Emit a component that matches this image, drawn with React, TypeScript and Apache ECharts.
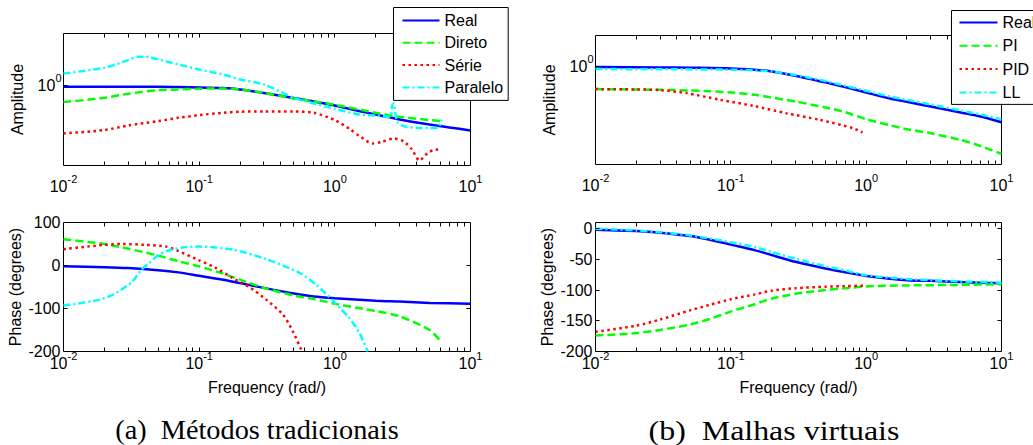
import React, { useEffect, useRef } from "react";
import * as echarts from "echarts";

// ---------- tick values ----------
const xMajorInner = [0.1, 1];
const xMinor = [
  0.02, 0.03, 0.04, 0.05, 0.06, 0.07, 0.08, 0.09,
  0.2, 0.3, 0.4, 0.5, 0.6, 0.7, 0.8, 0.9,
  2, 3, 4, 5, 6, 7, 8, 9,
];
const phaseTicksA = [0, -100];
const phaseTicksB = [0, -50, -100, -150];
const ampTicks = [1];

// ---------- (a) Métodos tradicionais : amplitude ----------
const ampRealA = [[0.01, 0.978], [0.02, 0.978], [0.03, 0.978], [0.05, 0.978], [0.07, 0.973], [0.1, 0.968], [0.15, 0.957], [0.2, 0.936], [0.3, 0.882], [0.5, 0.812], [0.7, 0.769], [1, 0.72], [1.5, 0.656], [2, 0.621], [3, 0.572], [5, 0.526], [7, 0.501], [10, 0.477]];
const ampDireto = [[0.01, 0.76], [0.02, 0.816], [0.03, 0.872], [0.05, 0.926], [0.07, 0.936], [0.1, 0.947], [0.15, 0.952], [0.2, 0.936], [0.3, 0.886], [0.5, 0.808], [0.7, 0.769], [1, 0.727], [1.5, 0.674], [2, 0.638], [3, 0.597], [5, 0.566], [6.1, 0.556]];
const ampSerie = [[0.01, 0.454], [0.02, 0.48], [0.03, 0.518], [0.05, 0.556], [0.07, 0.587], [0.1, 0.614], [0.15, 0.638], [0.2, 0.649], [0.3, 0.652], [0.5, 0.652], [0.7, 0.638], [1, 0.566], [1.3, 0.485], [1.5, 0.439], [1.9, 0.385], [2.2, 0.394], [2.7, 0.418], [3.2, 0.4], [3.7, 0.349], [4.2, 0.291], [4.8, 0.327], [5.3, 0.345], [6.1, 0.349]];
const ampParalelo = [[0.01, 1.218], [0.02, 1.337], [0.03, 1.517], [0.035, 1.603], [0.04, 1.603], [0.05, 1.534], [0.07, 1.413], [0.1, 1.301], [0.15, 1.198], [0.2, 1.104], [0.3, 1.017], [0.5, 0.816], [0.7, 0.744], [1, 0.681], [1.5, 0.621], [2, 0.61], [2.55, 0.597], [2.65, 0.72], [2.72, 0.744], [2.8, 0.621], [2.9, 0.547], [3.2, 0.512], [4, 0.499], [5, 0.496], [5.8, 0.501], [6.0, 0.535], [6.1, 0.572]];

// ---------- (a) phase ----------
const phRealA = [[0.01, -2], [0.02, -4], [0.03, -6], [0.05, -11], [0.07, -16], [0.1, -24], [0.15, -33], [0.2, -41], [0.3, -52], [0.5, -65], [0.7, -72], [1, -76], [2, -82], [3, -84], [5, -87], [10, -89]];
const phDireto = [[0.01, 61], [0.02, 50], [0.03, 39], [0.05, 23], [0.07, 10], [0.1, -2], [0.15, -19], [0.2, -33], [0.3, -52], [0.5, -70], [0.7, -78], [1, -89], [1.5, -99], [2, -106], [3, -118], [5, -150], [6.1, -178]];
const phSerie = [[0.01, 38], [0.015, 44], [0.02, 48], [0.027, 50], [0.04, 48], [0.057, 44], [0.07, 34], [0.1, 12], [0.13, -4], [0.176, -29], [0.234, -50], [0.311, -79], [0.414, -114], [0.49, -153], [0.573, -200]];
const phParalelo = [[0.01, -93], [0.0183, -80], [0.0244, -64], [0.0323, -37], [0.0372, -11], [0.0429, 6], [0.0494, 23], [0.057, 33], [0.0754, 42], [0.1, 44], [0.176, 37], [0.311, 15], [0.55, -17], [0.73, -45], [0.86, -66], [0.96, -80], [1.1, -100], [1.28, -122], [1.52, -157], [1.75, -200]];

// ---------- (b) Malhas virtuais : amplitude ----------
const ampRealB = [[0.01, 0.989], [0.03, 0.984], [0.05, 0.978], [0.1, 0.968], [0.15, 0.947], [0.2, 0.921], [0.3, 0.858], [0.5, 0.769], [0.7, 0.712], [1, 0.652], [1.5, 0.591], [2, 0.559], [3, 0.518], [5, 0.469], [7, 0.439], [10, 0.4]];
const ampPI = [[0.01, 0.689], [0.03, 0.681], [0.05, 0.674], [0.07, 0.666], [0.1, 0.652], [0.15, 0.628], [0.2, 0.6], [0.3, 0.562], [0.5, 0.51], [0.7, 0.472], [1, 0.421], [1.5, 0.381], [2, 0.357], [3, 0.334], [5, 0.299], [7, 0.271], [10, 0.238]];
const ampPID = [[0.01, 0.689], [0.02, 0.685], [0.03, 0.678], [0.047, 0.645], [0.083, 0.578], [0.146, 0.524], [0.257, 0.464], [0.453, 0.416], [0.8, 0.363], [0.94, 0.338]];
const ampLL = [[0.01, 0.957], [0.05, 0.952], [0.1, 0.947], [0.15, 0.936], [0.2, 0.921], [0.3, 0.867], [0.5, 0.786], [0.7, 0.727], [1, 0.67], [1.5, 0.61], [2, 0.578], [3, 0.535], [5, 0.485], [7, 0.454], [10, 0.421]];

// ---------- (b) phase ----------
const phRealB = [[0.01, -2], [0.02, -4], [0.03, -6.5], [0.05, -12], [0.07, -18], [0.1, -26], [0.15, -35], [0.2, -43], [0.3, -54], [0.5, -65], [0.7, -71], [1, -77], [2, -84], [3, -85], [5, -87], [10, -89]];
const phPI = [[0.01, -174], [0.02, -170], [0.03, -165], [0.05, -156], [0.07, -147], [0.1, -135], [0.15, -123], [0.2, -114], [0.3, -106], [0.5, -100], [0.7, -97], [1, -94], [2, -92.5], [5, -91.5], [10, -90.5]];
const phPID = [[0.01, -168], [0.02, -158], [0.03, -148], [0.05, -133], [0.07, -124], [0.1, -115], [0.15, -107], [0.2, -101], [0.3, -97], [0.5, -94.5], [0.7, -93.5], [0.95, -93]];
const phLL = [[0.01, 0], [0.02, -3], [0.03, -6], [0.05, -11], [0.1, -22], [0.15, -30], [0.2, -38], [0.3, -49], [0.5, -61], [0.7, -68], [1, -76], [2, -82], [3, -84], [5, -86], [10, -88]];

const legendA = ["Real", "Direto", "Série", "Paralelo"];
const legendB = ["Real", "PI", "PID", "LL"];

const captionA = "(a)  Métodos tradicionais";
const captionB = "(b)  Malhas virtuais";

const FONT = "Liberation Sans";
const FS = 16;
const BLUE = "#0000ff";
const GREEN = "#00ff00";
const RED = "#ff0000";
const CYAN = "#00ffff";
const LW = 2.5;
const DASH = [8, 4];
const DOT = [2.5, 3.5];
const DASHDOT = [7, 3, 2, 3];

function lineSeries(name: string, data: number[][], gi: number, color: string, type: any) {
  return {
    type: "line",
    name,
    xAxisIndex: gi,
    yAxisIndex: gi,
    data,
    symbol: "none",
    showSymbol: false,
    smooth: 0.25,
    lineStyle: { color, width: LW, type, cap: "butt" },
    itemStyle: { color },
    z: 3,
  };
}

function xTicks(gi: number, refY: number) {
  return {
    type: "custom",
    xAxisIndex: gi,
    yAxisIndex: gi,
    silent: true,
    clip: false,
    z: 5,
    data: [...xMajorInner, ...xMinor].map((f) => [f, refY]),
    renderItem: (params: any, api: any) => {
      const cs = params.coordSys;
      const p = api.coord([api.value(0), api.value(1)]);
      const x = Math.round(p[0] - 0.5) + 0.5;
      const yb = cs.y + cs.height;
      const yt = cs.y;
      const st = { stroke: "#000", lineWidth: 1 };
      return {
        type: "group",
        children: [
          { type: "line", shape: { x1: x, y1: yb, x2: x, y2: yb - 4 }, style: st },
          { type: "line", shape: { x1: x, y1: yt, x2: x, y2: yt + 4 }, style: st },
        ],
      };
    },
  };
}

function yTicks(gi: number, vals: number[]) {
  return {
    type: "custom",
    xAxisIndex: gi,
    yAxisIndex: gi,
    silent: true,
    clip: false,
    z: 5,
    data: vals.map((v) => [1, v]),
    renderItem: (params: any, api: any) => {
      const cs = params.coordSys;
      const p = api.coord([api.value(0), api.value(1)]);
      const y = Math.round(p[1] - 0.5) + 0.5;
      const st = { stroke: "#000", lineWidth: 1 };
      return {
        type: "group",
        children: [
          { type: "line", shape: { x1: cs.x, y1: y, x2: cs.x + 4, y2: y }, style: st },
          { type: "line", shape: { x1: cs.x + cs.width, y1: y, x2: cs.x + cs.width - 4, y2: y }, style: st },
        ],
      };
    },
  };
}

// superscript layout: base centred, exponent raised
const rich = {
  b: { fontSize: FS, lineHeight: 26, fontFamily: FONT, color: "#000" },
  s: { fontSize: 11, lineHeight: 10, verticalAlign: "top", fontFamily: FONT, color: "#000" },
};

function xAxis(gi: number, margin: number, withName: boolean) {
  return {
    type: "log",
    logBase: 10,
    gridIndex: gi,
    min: 0.01,
    max: 10,
    axisLine: { show: false },
    axisTick: { show: false },
    splitLine: { show: false },
    minorTick: { show: false },
    axisLabel: {
      margin,
      formatter: (v: number) => `{b|10}{s|${Math.round(Math.log10(v))}}`,
      rich,
    },
    name: withName ? "Frequency (rad/)" : "",
    nameLocation: "middle",
    nameGap: 28,
    nameTextStyle: { fontSize: FS, fontFamily: FONT, color: "#000" },
  };
}

function ampAxis(gi: number, min: number, max: number) {
  return {
    type: "log",
    logBase: 10,
    gridIndex: gi,
    min,
    max,
    axisLine: { show: false },
    axisTick: { show: false },
    splitLine: { show: false },
    axisLabel: {
      margin: 2,
      formatter: (v: number) => (Math.abs(v - 1) < 1e-6 ? "{b|10}{s|0}" : ""),
      rich,
    },
    name: "Amplitude",
    nameLocation: "middle",
    nameGap: 38,
    nameTextStyle: { fontSize: FS, fontFamily: FONT, color: "#000" },
  };
}

function phaseAxis(gi: number, min: number, max: number, interval: number) {
  return {
    type: "value",
    gridIndex: gi,
    min,
    max,
    interval,
    axisLine: { show: false },
    axisTick: { show: false },
    splitLine: { show: false },
    axisLabel: {
      margin: 3,
      fontSize: FS,
      fontFamily: FONT,
      color: "#000",
      showMaxLabel: max % interval === 0,
    },
    name: "Phase (degrees)",
    nameLocation: "middle",
    nameGap: 40,
    nameTextStyle: { fontSize: FS, fontFamily: FONT, color: "#000" },
  };
}

const gridBase = { show: true, borderColor: "#000", borderWidth: 1, backgroundColor: "#fff" };

function legend(data: string[], left: number, top: number, itemWidth: number, gap: number, padding: number[]) {
  return {
    data,
    orient: "vertical",
    left,
    top,
    itemWidth,
    itemHeight: 14,
    itemGap: gap,
    padding,
    backgroundColor: "#fff",
    borderColor: "#000",
    borderWidth: 1,
    borderRadius: 0,
    selectedMode: false,
    itemStyle: { opacity: 0, borderWidth: 0 },
    textStyle: { fontSize: FS, fontFamily: FONT, color: "#000", lineHeight: 14 },
    z: 10,
  };
}

function caption(text: string, x: number, scaleX: number) {
  return {
    type: "text",
    x,
    y: 430,
    scaleX,
    style: {
      text,
      font: '28px "Liberation Serif"',
      fill: "#000",
      align: "center",
      verticalAlign: "middle",
      textAlign: "center",
      textVerticalAlign: "middle",
    },
  };
}

export default function App() {
  const ref = useRef<HTMLDivElement>(null);
  useEffect(() => {
    if (!ref.current) return;
    const chart = echarts.init(ref.current, undefined, { renderer: "svg" });
    chart.setOption({
      animation: false,
      backgroundColor: "#fff",
      textStyle: { fontFamily: FONT },
      grid: [
        { ...gridBase, left: 63.5, top: 33.5, width: 407, height: 132 },
        { ...gridBase, left: 63.5, top: 222.5, width: 407, height: 129 },
        { ...gridBase, left: 595.5, top: 35.5, width: 406, height: 129 },
        { ...gridBase, left: 595.5, top: 222.5, width: 406, height: 129 },
      ],
      xAxis: [xAxis(0, 8, false), xAxis(1, -1, true), xAxis(2, 8, false), xAxis(3, -1, true)],
      yAxis: [
        ampAxis(0, 0.268, 2.35),
        phaseAxis(1, -200, 100, 100),
        ampAxis(2, 0.2, 1.66),
        phaseAxis(3, -200, 10, 50),
      ],
      legend: [
        legend(legendA, 393.5, 7.5, 37, 6.3, [5, 5, 5, 8]),
        legend(legendB, 951.5, 10.5, 38, 7.3, [4, 40, 4, 7]),
      ],
      graphic: [caption(captionA, 257, 1.01), caption(captionB, 774, 1.14)],
      series: [
        lineSeries("Real", ampRealA, 0, BLUE, "solid"),
        lineSeries("Direto", ampDireto, 0, GREEN, DASH),
        lineSeries("Série", ampSerie, 0, RED, DOT),
        lineSeries("Paralelo", ampParalelo, 0, CYAN, DASHDOT),
        lineSeries("Real", phRealA, 1, BLUE, "solid"),
        lineSeries("Direto", phDireto, 1, GREEN, DASH),
        lineSeries("Série", phSerie, 1, RED, DOT),
        lineSeries("Paralelo", phParalelo, 1, CYAN, DASHDOT),
        lineSeries("Real", ampRealB, 2, BLUE, "solid"),
        lineSeries("PI", ampPI, 2, GREEN, DASH),
        lineSeries("PID", ampPID, 2, RED, DOT),
        lineSeries("LL", ampLL, 2, CYAN, DASHDOT),
        lineSeries("Real", phRealB, 3, BLUE, "solid"),
        lineSeries("PI", phPI, 3, GREEN, DASH),
        lineSeries("PID", phPID, 3, RED, DOT),
        lineSeries("LL", phLL, 3, CYAN, DASHDOT),
        xTicks(0, 1),
        xTicks(1, 0),
        xTicks(2, 1),
        xTicks(3, 0),
        yTicks(0, ampTicks),
        yTicks(1, phaseTicksA),
        yTicks(2, ampTicks),
        yTicks(3, phaseTicksB),
      ],
    });
    return () => chart.dispose();
  }, []);
  return (
    <div
      ref={ref}
      style={{ position: "absolute", left: 0, top: 0, width: 1033, height: 445, background: "#fff" }}
    />
  );
}
